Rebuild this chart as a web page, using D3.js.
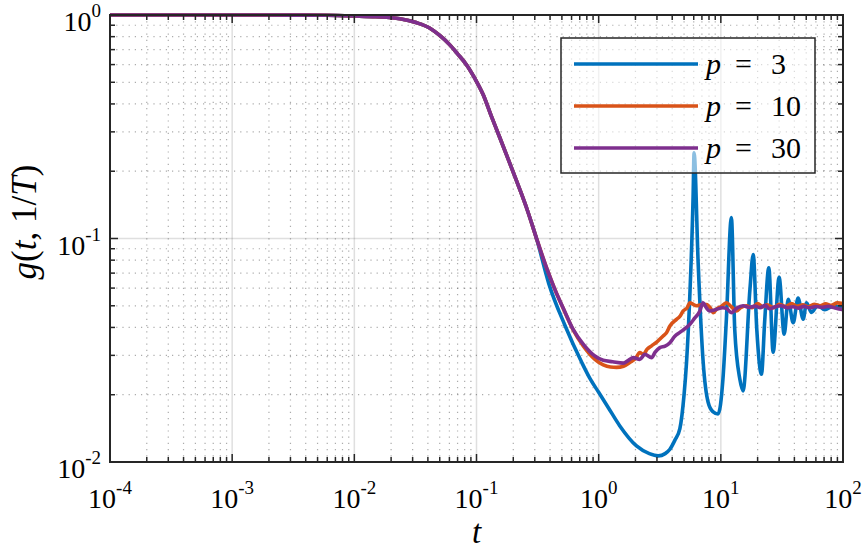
<!DOCTYPE html>
<html><head><meta charset="utf-8">
<script src="https://cdn.jsdelivr.net/npm/d3@7"></script>
<style>body{margin:0;background:#fff}svg{display:block}</style>
</head><body><svg id="c" width="865" height="550" font-family="'Liberation Serif', 'Times New Roman', 'DejaVu Serif', serif"></svg>
<script>
// shared initial decay (all three curves coincide)
const tHead = [1e-4,3e-4,1e-3,3e-3,0.006,0.01,0.015,0.0236,0.032,0.0416,0.05,0.0605,0.07,0.083,0.097,0.1135,0.133,0.155,0.182,0.2265,0.26,0.31];
const gHead = [1,1,1,0.999,0.997,0.99,0.982,0.962,0.925,0.873,0.81,0.735,0.67,0.598,0.52,0.44,0.35,0.283,0.226,0.1655,0.1345,0.1];
// p = 3
const tP3 = [0.39,0.529,0.7245,0.85,1.0,1.2,1.49,2.04,2.6,3.07,3.5,3.83,4.2,4.62,5.0,5.24,5.57,5.93,6.04,6.52,7.17,7.87,8.6,9.5,10.4,11.1,12.2,13.0,14.3,15.2,17.3,18.4,19.7,21.5,22.9,24.7,26.8,30.0,33.0,35.6,39.1,42.9,47.2,50.3,55.2,62.2,71,82.6,100];
const gP3 = [0.063,0.0409,0.028,0.0236,0.0205,0.0175,0.0145,0.0118,0.0109,0.01065,0.0109,0.0114,0.0125,0.0141,0.02,0.028,0.055,0.154,0.242,0.078,0.0279,0.0185,0.0168,0.0164,0.0234,0.0435,0.124,0.039,0.0235,0.0208,0.059,0.0848,0.039,0.0247,0.0435,0.074,0.031,0.067,0.0373,0.0534,0.042,0.0542,0.0435,0.0516,0.0467,0.0502,0.048,0.0497,0.049];
// p = 10
const tP10 = [0.384,0.438,0.52,0.618,0.75,0.931,1.09,1.25,1.4,1.6,1.8,2.0,2.17,2.31,2.5,2.71,3.0,3.37,3.59,3.83,4.34,4.6,4.92,5.3,5.58,5.9,6.32,6.9,7.65,8.2,8.67,9.3,10,11.1,12.2,13.4,14.5,16.2,18,20,22,24,27,30,34,38,42,47,52,58,65,72,80,90,100];
const gP10 = [0.0712,0.0592,0.0478,0.039,0.033,0.0288,0.0272,0.0266,0.0265,0.0268,0.0279,0.029,0.0309,0.0303,0.032,0.0331,0.0345,0.0366,0.0379,0.0406,0.0435,0.0447,0.0474,0.049,0.0516,0.0508,0.05,0.0505,0.0507,0.049,0.0466,0.0485,0.0495,0.0516,0.0495,0.0474,0.049,0.05,0.049,0.0512,0.0495,0.0505,0.049,0.0508,0.0496,0.0512,0.0498,0.0505,0.0495,0.0508,0.05,0.051,0.0502,0.0515,0.0512];
// p = 30
const tP30 = [0.384,0.438,0.52,0.618,0.75,0.931,1.09,1.3,1.59,1.75,1.92,2.17,2.39,2.71,2.9,3.17,3.5,3.83,4.2,4.62,5.24,5.58,6.1,6.74,7.14,7.6,8.1,9.0,10.4,11.2,12.2,13.5,15.2,17,19,21,23,25,28,31,35,39,43,48,53,60,68,76,85,93,100];
const gP30 = [0.0712,0.0592,0.048,0.0392,0.0336,0.0298,0.0285,0.0281,0.0277,0.0285,0.0293,0.0288,0.0303,0.0293,0.031,0.0325,0.033,0.0342,0.0365,0.038,0.040,0.0413,0.044,0.0474,0.0516,0.049,0.0474,0.048,0.049,0.0485,0.0466,0.0488,0.05,0.0492,0.0498,0.049,0.0502,0.0485,0.0495,0.05,0.049,0.0495,0.0488,0.0497,0.049,0.0496,0.0492,0.0497,0.049,0.0484,0.048];
const seriesNames = ["p = 3","p = 10","p = 30"];
const seriesValues = [[tP3,gP3],[tP10,gP10],[tP30,gP30]];
const xTickExps = [-4,-3,-2,-1,0,1,2];
const yTickExps = [-2,-1,0];

const colors = ["#0072BD","#D95319","#7E2F8E"];
const FF = "'Liberation Serif', 'Times New Roman', 'DejaVu Serif', serif";
const L=110,R=843,T=15,B=462;
const svg=d3.select("#c");
const x=d3.scaleLog().domain([1e-4,1e2]).range([L,R]);
const y=d3.scaleLog().domain([1e-2,1]).range([B,T]);

const xMinor=[],yMinor=[];
for(let e=-4;e<2;e++)for(let k=2;k<10;k++)xMinor.push(k*Math.pow(10,e));
for(let e=-2;e<0;e++)for(let k=2;k<10;k++)yMinor.push(k*Math.pow(10,e));
const xMajor=xTickExps.map(e=>Math.pow(10,e)), yMajor=yTickExps.map(e=>Math.pow(10,e));

const g=svg.append("g");
// minor grid
g.selectAll(".mgx").data(xMinor).enter().append("line").attr("x1",d=>x(d)).attr("x2",d=>x(d)).attr("y1",T).attr("y2",B)
 .attr("stroke","#262626").attr("stroke-opacity",0.38).attr("stroke-width",1.2).attr("stroke-dasharray","1.2,5");
g.selectAll(".mgy").data(yMinor).enter().append("line").attr("y1",d=>y(d)).attr("y2",d=>y(d)).attr("x1",L).attr("x2",R)
 .attr("stroke","#262626").attr("stroke-opacity",0.38).attr("stroke-width",1.2).attr("stroke-dasharray","1.2,5");
// major grid
g.selectAll(".Mgx").data(xMajor).enter().append("line").attr("x1",d=>x(d)).attr("x2",d=>x(d)).attr("y1",T).attr("y2",B)
 .attr("stroke","#262626").attr("stroke-opacity",0.15).attr("stroke-width",1.5);
g.selectAll(".Mgy").data(yMajor).enter().append("line").attr("y1",d=>y(d)).attr("y2",d=>y(d)).attr("x1",L).attr("x2",R)
 .attr("stroke","#262626").attr("stroke-opacity",0.15).attr("stroke-width",1.5);

// lines
const line=d3.line().x(d=>x(d[0])).y(d=>y(d[1])).curve(d3.curveMonotoneX);
seriesValues.forEach((sv,i)=>{
  const pts=tHead.map((t,j)=>[t,gHead[j]]).concat(sv[0].map((t,j)=>[t,sv[1][j]]));
  svg.append("path").datum(pts).attr("d",line).attr("fill","none").attr("stroke",colors[i]).attr("stroke-width",3.6).attr("stroke-linejoin","round");
});

// axes box & ticks
const ax=svg.append("g");
const tk=(x1,y1,x2,y2)=>ax.append("line").attr("x1",x1).attr("y1",y1).attr("x2",x2).attr("y2",y2).attr("stroke","#262626").attr("stroke-width",1.5);
xMajor.forEach(d=>{tk(x(d),B,x(d),B-8);tk(x(d),T,x(d),T+8);});
xMinor.forEach(d=>{tk(x(d),B,x(d),B-5);tk(x(d),T,x(d),T+5);});
yMajor.forEach(d=>{tk(L,y(d),L+8,y(d));tk(R,y(d),R-8,y(d));});
yMinor.forEach(d=>{tk(L,y(d),L+5,y(d));tk(R,y(d),R-5,y(d));});
ax.append("rect").attr("x",L).attr("y",T).attr("width",R-L).attr("height",B-T).attr("fill","none").attr("stroke","#262626").attr("stroke-width",2);

// tick labels
xTickExps.forEach(e=>{
  const t=svg.append("text").attr("font-family",FF).attr("x",x(Math.pow(10,e))).attr("y",508).attr("text-anchor","middle").attr("font-size",28);
  t.append("tspan").text("10");
  t.append("tspan").attr("dy",-14).attr("font-size",19).text(e);
});
yTickExps.forEach(e=>{
  const t=svg.append("text").attr("font-family",FF).attr("x",101).attr("y",y(Math.pow(10,e))+16).attr("text-anchor","end").attr("font-size",28);
  t.append("tspan").text("10");
  t.append("tspan").attr("dy",-14).attr("font-size",19).text(e);
});

// axis labels
svg.append("text").attr("font-family",FF).attr("x",(L+R)/2).attr("y",543).attr("text-anchor","middle").attr("font-size",33).attr("font-style","italic").text("t");
const yl=svg.append("text").attr("font-family",FF).attr("transform","translate(36,222) rotate(-90)").attr("text-anchor","middle").attr("font-size",35);
yl.append("tspan").attr("font-style","italic").text("g");
yl.append("tspan").text("(");
yl.append("tspan").attr("font-style","italic").text("t");
yl.append("tspan").text(", 1/");
yl.append("tspan").attr("font-style","italic").text("T");
yl.append("tspan").text(")");

// legend
const lg=svg.append("g");
lg.append("rect").attr("x",561).attr("y",38).attr("width",254).attr("height",135).attr("fill","#fff").attr("fill-opacity",0.55).attr("stroke","#262626").attr("stroke-width",1.5);
seriesNames.forEach((n,i)=>{
  const yy=64+i*42;
  lg.append("line").attr("x1",574).attr("x2",698).attr("y1",yy).attr("y2",yy).attr("stroke",colors[i]).attr("stroke-width",3.6);
  const parts=n.split(" = ");
  const tx=lg.append("text").attr("font-family",FF).attr("x",706).attr("y",yy+10).attr("font-size",30);
  tx.append("tspan").attr("font-style","italic").text(parts[0]);
  tx.append("tspan").attr("x",735).text("=");
  tx.append("tspan").attr("x",771).text(parts[1]);
});
</script></body></html>
